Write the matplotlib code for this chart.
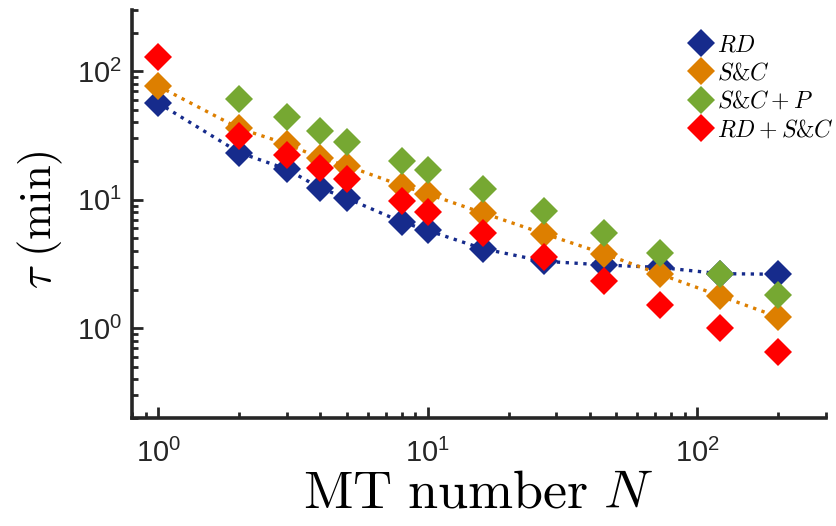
import matplotlib
matplotlib.use('Agg')
import matplotlib.pyplot as plt
from matplotlib.font_manager import FontProperties
from matplotlib.ticker import NullFormatter

# sans tick labels, computer modern for the axis labels and legend
plt.rcParams['font.family'] = 'Liberation Sans'
plt.rcParams['mathtext.fontset'] = 'custom'
plt.rcParams['mathtext.rm'] = 'Liberation Sans'
plt.rcParams['mathtext.it'] = 'Liberation Sans:italic'

# MT number
N = [1, 2, 3, 4, 5, 8, 10, 16, 27, 45, 73, 121, 200]
N_scp = N[1:]

# tau in minutes for each mechanism
tau_rd = [56.7, 23.3, 17.3, 12.3, 10.3, 6.73, 5.77, 4.16, 3.32, 3.11, 2.97, 2.66, 2.63]
tau_sc = [76.8, 35.9, 27.2, 21.1, 18.4, 12.9, 11.1, 7.9, 5.44, 3.81, 2.63, 1.79, 1.22]
tau_scp = [60.6, 44.2, 34.4, 28.3, 20.1, 16.9, 12.1, 8.13, 5.53, 3.83, 2.63, 1.82]
tau_rdsc = [128.8, 31.5, 22.3, 17.6, 14.6, 9.7, 7.99, 5.53, 3.61, 2.34, 1.52, 1.0, 0.652]

# '&' is not a mathtext command, so it sits between the math parts
labels = [r'$RD$', r'$S$&$C$', r'$S$&$C+P$', r'$RD+S$&$C$']

blue = '#162B8C'
orange = '#DD7F00'
green = '#76A832'
red = '#FF0000'

fig = plt.figure(figsize=(8.37, 5.26), dpi=100)
ax = fig.add_axes([0.1577, 0.2053, 0.829, 0.7757])

ms = 14.5
ax.plot(N, tau_rd, ':', color=blue, lw=2.4, marker='D', ms=ms, mew=0, label=labels[0])
ax.plot(N, tau_sc, ':', color=orange, lw=2.4, marker='D', ms=ms, mew=0, label=labels[1])
ax.plot(N_scp, tau_scp, ls='none', color=green, marker='D', ms=ms, mew=0, label=labels[2])
ax.plot(N, tau_rdsc, ls='none', color=red, marker='D', ms=ms, mew=0, label=labels[3])

ax.set_xscale('log')
ax.set_yscale('log')
ax.set_xlim(0.8, 300)
ax.set_ylim(0.2, 300)

for side in ['top', 'right']:
    ax.spines[side].set_visible(False)
for side in ['left', 'bottom']:
    ax.spines[side].set_linewidth(2.6)
    ax.spines[side].set_color('#262626')

ax.tick_params(which='both', direction='in', color='#262626', width=2, labelsize=21,
               labelcolor='#262626')
ax.tick_params(which='major', length=8)
ax.tick_params(which='minor', length=4.5)
ax.tick_params(axis='x', which='both', pad=15)
ax.tick_params(axis='y', which='both', pad=7)
ax.xaxis.set_minor_formatter(NullFormatter())
ax.yaxis.set_minor_formatter(NullFormatter())

ax.set_xlabel(r'$\mathrm{MT\ number}\ N$', fontsize=39, math_fontfamily='cm', labelpad=0)
ax.set_ylabel(r'$\tau\ (\mathrm{min})$', fontsize=32, math_fontfamily='cm')
ax.yaxis.set_label_coords(-0.097, 0.485)

leg_font = FontProperties(family='cmr10', size=17, math_fontfamily='cm')
ax.legend(loc='upper left', bbox_to_anchor=(0.824, 0.935), bbox_transform=fig.transFigure,
          frameon=False, prop=leg_font, handlelength=1.0, handletextpad=0.15,
          labelspacing=0.25, borderaxespad=0, borderpad=0)

fig.savefig('out.png', dpi=100)
